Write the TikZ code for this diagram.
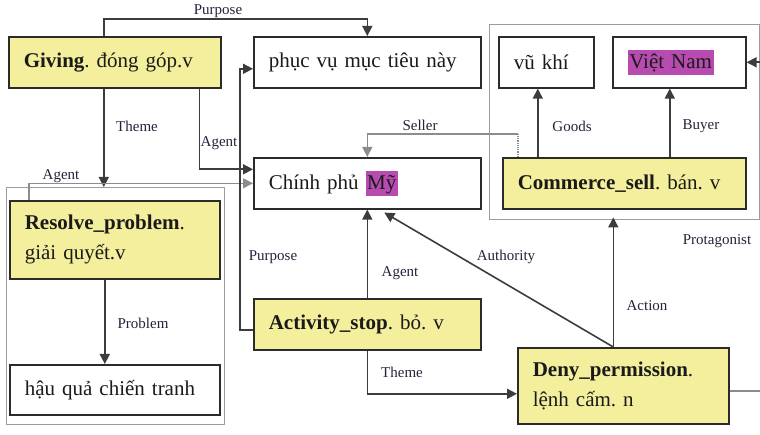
\documentclass[tikz,border=0pt]{standalone}
\usepackage{fontspec}
\setmainfont{Liberation Serif}
\usetikzlibrary{arrows.meta}
\frenchspacing

\definecolor{frameyellow}{HTML}{F4EF9C}
\definecolor{boxline}{HTML}{2B2B2B}
\definecolor{reldark}{HTML}{3C3C3C}
\definecolor{rellight}{HTML}{8C8C8C}
\definecolor{groupgray}{HTML}{9C9C9C}
\definecolor{hlpink}{HTML}{B84BB0}
\definecolor{inktext}{HTML}{1A1A1A}
\definecolor{lbltext}{HTML}{23233A}

\newcommand\boxfont{\fontsize{21}{30}\selectfont}
\newcommand\lblfont{\fontsize{15}{17}\selectfont}
\newcommand\hlword[1]{{\setlength\fboxsep{1.5pt}\colorbox{hlpink}{\vphantom{Ỹg}#1}}}

\tikzset{
  box/.style={draw=boxline, line width=1.6pt, fill=white, anchor=north west,
    inner xsep=15pt, inner ysep=0pt, align=left, font=\boxfont, text=inktext},
  framebox/.style={box, fill=frameyellow},
  groupbox/.style={draw=groupgray, line width=1.4pt, anchor=north west,
    inner sep=0pt},
  rel/.style={draw=reldark, line width=1.6pt,
    -{Triangle[length=10pt,width=10pt]}},
  rellight/.style={rel, draw=rellight, line width=1.2pt},
  lbl/.style={font=\lblfont, text=lbltext, inner sep=0pt},
}

\begin{document}
\begin{tikzpicture}[x=1pt, y=-1pt]
\useasboundingbox (0,0) rectangle (760,435);

% grouping frames
\node[groupbox, minimum width=270pt, minimum height=195pt] (sellgroup) at (489,24) {};
\node[groupbox, minimum width=218pt, minimum height=237pt] (resolvegroup) at (6,187) {};

% frames and fillers
\node[framebox, text width=182pt, minimum height=51pt] (giving) at (8,36)
  {\textbf{Giving}. đóng góp.v};
\node[box, text width=197pt, minimum height=51pt] (phucvu) at (253,36)
  {phục vụ mục tiêu này};
\node[box, text width=65pt, minimum height=51pt] (vukhi) at (498,36)
  {vũ khí};
\node[box, text width=103pt, minimum height=51pt] (vietnam) at (612,36)
  {\hlword{Việt Nam}};
\node[box, text width=197pt, minimum height=51pt] (chinh) at (253,157)
  {Chính phủ \hlword{Mỹ}};
\node[framebox, text width=213pt, minimum height=51pt] (commerce) at (502,157)
  {\textbf{Commerce\_sell}. bán. v};
\node[framebox, text width=180pt, minimum height=78pt] (resolve) at (9,200)
  {\textbf{Resolve\_problem}.\\giải quyết.v};
\node[framebox, text width=197pt, minimum height=51pt] (actstop) at (253,298)
  {\textbf{Activity\_stop}. bỏ. v};
\node[box, text width=180pt, minimum height=50pt] (hauqua) at (9,364)
  {hậu quả chiến tranh};
\node[framebox, text width=181pt, minimum height=76pt] (deny) at (517,347)
  {\textbf{Deny\_permission}.\\lệnh cấm. n};

% Giving relations
\draw[rel] ([xshift=-11pt]giving.north) -- ++(0,-17) -| (phucvu.north);
\draw[rel] ([xshift=-11pt]giving.south) -- ([xshift=-11pt]giving.south |- resolvegroup.north);
\draw[rel] ([xshift=-22pt]giving.south east) |- ([yshift=14pt]chinh.west);

% Resolve_problem relations
\draw[rellight] ([xshift=20pt]resolve.north west) |- (chinh.west);
\draw[rel] ([xshift=-10pt]resolve.south) -- ([xshift=-10pt]hauqua.north);

% Activity_stop relations
\draw[rel] ([yshift=-6pt]actstop.west) -- ++(-13,0) |- ([yshift=-6.5pt]phucvu.west);
\draw[rel] (actstop.north) -- (chinh.south);
\draw[rel] (actstop.south) |- ([yshift=-8pt]deny.west);

% Deny_permission relations
\draw[rel] ([xshift=-10pt]deny.north) -- ([xshift=17pt,yshift=-3pt]chinh.south);
\draw[rel, shorten >=-3pt] ([xshift=-10pt]deny.north) -- ([xshift=-10pt]deny.north |- sellgroup.south);
\coordinate (offright) at (760,391);
\draw[draw=rellight, line width=1.2pt] (deny.east |- offright) -- (offright);
\draw[rel] (vietnam.east -| sellgroup.east) -- (vietnam.east);

% Commerce_sell relations
\draw[rel] ([xshift=-8.5pt]vukhi.south |- commerce.north) -- ([xshift=-8.5pt]vukhi.south);
\draw[rel] ([xshift=-9.5pt]vietnam.south |- commerce.north) -- ([xshift=-9.5pt]vietnam.south);
\coordinate (sellbend) at ([xshift=16pt,yshift=23pt]commerce.north west);
\draw[draw=rellight, line width=1.2pt, densely dotted] ([xshift=16pt]commerce.north west) -- (sellbend);
\draw[rellight] (sellbend) -| (chinh.north);

% role labels
\node[lbl] (lpurpose1) at (218,11) {Purpose};
\node[lbl] (ltheme1) at (137,126) {Theme};
\node[lbl] (lagent1) at (219,143) {Agent};
\node[lbl] (lseller) at (420,125) {Seller};
\node[lbl] (lgoods) at (572,126) {Goods};
\node[lbl] (lbuyer) at (701,126) {Buyer};
\node[lbl] (lagent2) at (61,176) {Agent};
\node[lbl] (lpurpose2) at (273,257) {Purpose};
\node[lbl] (lagent3) at (400,273) {Agent};
\node[lbl] (lauthority) at (506,257) {Authority};
\node[lbl] (lprotagonist) at (717,241) {Protagonist};
\node[lbl] (laction) at (647,306) {Action};
\node[lbl] (lproblem) at (143,323) {Problem};
\node[lbl] (ltheme2) at (402,372) {Theme};
\end{tikzpicture}
\end{document}
